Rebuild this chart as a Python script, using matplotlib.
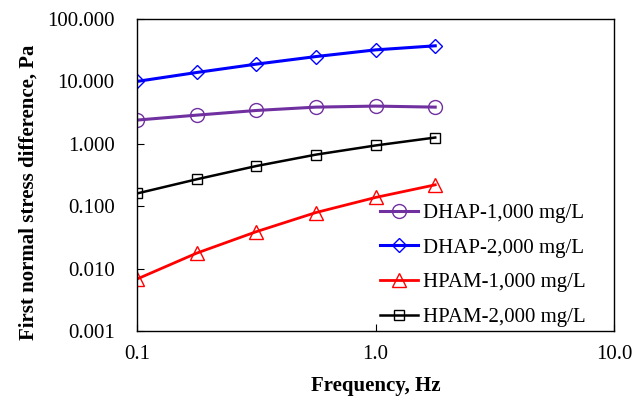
import numpy as np
import matplotlib
matplotlib.use('Agg')
import matplotlib.pyplot as plt
from matplotlib.ticker import FixedLocator, FixedFormatter, NullLocator

plt.rcParams['font.family'] = ['Liberation Serif', 'DejaVu Serif']

#frequency values, Hz
freq = [0.1, 0.178, 0.316, 0.562, 1.0, 1.78]

#first normal stress difference, Pa
dhap_1000 = [2.40, 2.88, 3.42, 3.87, 4.02, 3.87]
dhap_2000 = [10.0, 13.9, 18.9, 25.0, 32.0, 37.2]
hpam_1000 = [0.0068, 0.0177, 0.039, 0.079, 0.138, 0.22]
hpam_2000 = [0.16, 0.27, 0.44, 0.67, 0.94, 1.26]

y_ticks = [0.001, 0.01, 0.1, 1, 10, 100]
y_labels = ['0.001', '0.010', '0.100', '1.000', '10.000', '100.000']
x_ticks = [0.1, 1, 10]
x_labels = ['0.1', '1.0', '10.0']

fig = plt.figure(figsize=(6.34, 3.98), dpi=100)
ax = fig.add_axes([137/634, 1 - 331/398, 477/634, 312/398])

ax.plot(freq, dhap_1000, color='#7030A0', lw=2.2, marker='o', ms=10,
        mfc='none', mec='#7030A0', mew=1.0, label='DHAP-1,000 mg/L')
ax.plot(freq, dhap_2000, color='#0000FF', lw=2.2, marker='D', ms=7.5,
        mfc='none', mec='#0000FF', mew=1.0, label='DHAP-2,000 mg/L')
ax.plot(freq, hpam_1000, color='#FF0000', lw=2.0, marker='^', ms=10,
        mfc='none', mec='#FF0000', mew=1.0, label='HPAM-1,000 mg/L')
ax.plot(freq, hpam_2000, color='black', lw=1.8, marker='s', ms=6.5,
        mfc='none', mec='black', mew=1.0, label='HPAM-2,000 mg/L')

ax.set_xscale('log')
ax.set_yscale('log')
ax.set_xlim(0.1, 10)
ax.set_ylim(0.001, 100)

ax.xaxis.set_major_locator(FixedLocator(x_ticks))
ax.xaxis.set_major_formatter(FixedFormatter(x_labels))
ax.xaxis.set_minor_locator(NullLocator())
ax.yaxis.set_major_locator(FixedLocator(y_ticks))
ax.yaxis.set_major_formatter(FixedFormatter(y_labels))
ax.yaxis.set_minor_locator(NullLocator())
ax.tick_params(direction='in', length=5, labelsize=15)
ax.tick_params(axis='x', pad=10)
ax.tick_params(axis='y', pad=16)

for s in ax.spines.values():
    s.set_linewidth(1.0)

ax.set_xlabel('Frequency, Hz', fontsize=15, fontweight='bold', labelpad=9)
ax.set_ylabel('First normal stress difference, Pa', fontsize=15, fontweight='bold', labelpad=5)
ax.yaxis.set_label_coords(-0.207, 0.444)

ax.legend(loc='lower left', frameon=False, fontsize=15, handlelength=1.85,
          handletextpad=0.2, labelspacing=0.72, borderpad=0, borderaxespad=0,
          bbox_to_anchor=(0.509, 0.013))

fig.savefig('out.png', dpi=100)
